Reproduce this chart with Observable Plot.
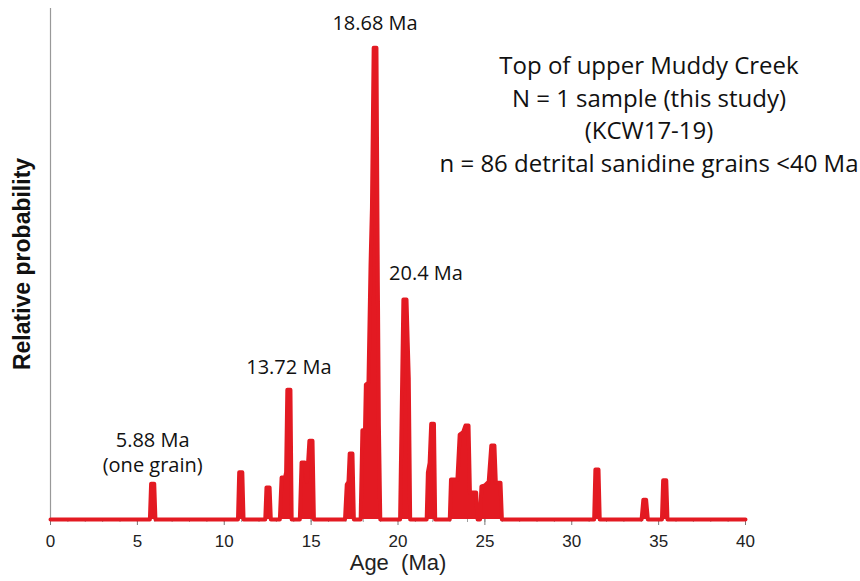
<!DOCTYPE html>
<html>
<head>
<meta charset="utf-8">
<script src="https://cdn.jsdelivr.net/npm/d3@7"></script>
<script src="https://cdn.jsdelivr.net/npm/@observablehq/plot@0.6"></script>
<style>
  body { margin: 0; background: #fff; }
  #chart { width: 860px; height: 581px; }
</style>
</head>
<body>
<div id="chart"></div>
<script>
// Probability-density outline of detrital sanidine ages (Ma) and relative probability.
const ages = [
  0,
  5.72, 5.79, 5.97, 6.04,
  10.79, 10.86, 11.04, 11.11,
  12.36, 12.43, 12.61, 12.68,
  13.2, 13.3, 13.5, 13.56, 13.63, 13.81, 13.88,
  14.35, 14.45, 14.64, 14.76, 14.9, 15.08, 15.16,
  16.95, 17.05, 17.15, 17.22, 17.38, 17.46,
  17.85, 17.95, 18.1, 18.15, 18.3, 18.42, 18.5, 18.6, 18.76, 18.84, 18.9, 18.98,
  20.12, 20.31, 20.49, 20.56, 20.62, 20.7,
  21.65, 21.72, 21.82, 21.91, 22.07, 22.14,
  22.98, 23.05, 23.42, 23.55, 23.75, 23.88, 24.06, 24.14, 24.5, 24.58,
  24.72, 24.8, 25.0, 25.22, 25.37, 25.55, 25.63, 25.9, 25.98,
  31.29, 31.36, 31.54, 31.61,
  34.02, 34.12, 34.28, 34.38,
  35.19, 35.26, 35.44, 35.51,
  40
];
const probs = [
  0,
  0, 0.076, 0.076, 0,
  0, 0.100, 0.100, 0,
  0, 0.068, 0.068, 0,
  0, 0.089, 0.089, 0.10, 0.275, 0.275, 0,
  0, 0.121, 0.121, 0.08, 0.167, 0.167, 0,
  0, 0.074, 0.08, 0.140, 0.140, 0,
  0, 0.189, 0.189, 0.286, 0.29, 0.54, 0.66, 1.0, 1.0, 0.5, 0.2, 0,
  0, 0.466, 0.466, 0.375, 0.3, 0,
  0, 0.10, 0.12, 0.203, 0.203, 0,
  0, 0.085, 0.085, 0.18, 0.185, 0.199, 0.199, 0.057, 0.057, 0,
  0, 0.07, 0.072, 0.08, 0.157, 0.157, 0.078, 0.078, 0,
  0, 0.106, 0.106, 0,
  0, 0.042, 0.042, 0,
  0, 0.083, 0.083, 0,
  0
];

// Annotated peaks
const peakAges = [5.88, 13.72, 18.68, 20.4];
const peakLabels = ["5.88 Ma\n(one grain)", "13.72 Ma", "18.68 Ma", "20.4 Ma"];

// Axis ticks
const majorTicks = [0, 5, 10, 15, 20, 25, 30, 35, 40];
const minorTicks = d3.range(0, 41, 1);

// Sample description
const titleLines = [
  "Top of upper Muddy Creek",
  "N = 1 sample (this study)",
  "(KCW17-19)",
  "n = 86 detrital sanidine grains <40 Ma"
];

const red = "#e31a22";
const curve = ages.map((a, i) => ({age: a, prob: probs[i]}));
const peakTop = a => d3.max(curve.filter(d => Math.abs(d.age - a) < 0.2), d => d.prob);
const peaks = peakAges.map((a, i) => ({age: a, prob: peakTop(a), label: peakLabels[i]}));

// label placement relative to each peak top: [dx, dy]
const labelOffsets = [[0, -12], [0, -16], [0, -18], [21, -20]];

const chart = Plot.plot({
  width: 860,
  height: 581,
  marginLeft: 50,
  marginRight: 115,
  marginTop: 8,
  marginBottom: 62,
  x: {domain: [0, 40]},
  y: {domain: [0, 1.083], axis: null},
  style: {fontFamily: "'Open Sans', sans-serif", background: "#fff", overflow: "visible"},
  marks: [
    Plot.ruleX([0], {y1: 0, y2: 1.083, stroke: "#999", strokeWidth: 1.2}),
    Plot.axisX({ticks: minorTicks, tickSize: 3, tickFormat: () => "", stroke: "#888", strokeWidth: 0.8, label: null}),
    Plot.axisX({
      ticks: majorTicks, tickSize: 6, tickPadding: 9, stroke: "#777",
      fontSize: 17, fontFamily: "'Liberation Sans Narrow', 'Arial Narrow', sans-serif",
      fill: "#222", label: null, tickFormat: d => String(d)
    }),
    Plot.areaY(curve, {x: "age", y: "prob", fill: red, curve: "linear"}),
    Plot.line(curve, {x: "age", y: "prob", stroke: red, strokeWidth: 4, strokeLinejoin: "round", curve: "linear"}),
    ...peaks.map((p, i) => Plot.text([p], {
      x: "age", y: "prob", text: "label",
      dx: labelOffsets[i][0], dy: labelOffsets[i][1],
      lineAnchor: "bottom", fontSize: 20, lineHeight: 1.25, fill: "#111"
    })),
    Plot.text(["Age  (Ma)"], {
      frameAnchor: "bottom", dy: 50, fontSize: 22,
      fontFamily: "'Liberation Sans Narrow', 'Arial Narrow', sans-serif", fill: "#222"
    }),
    Plot.text(["Relative probability"], {
      frameAnchor: "left", textAnchor: "middle", dx: -28, rotate: -90, fontSize: 23, fontWeight: "bold",
      fontFamily: "'Liberation Sans', Arial, sans-serif", fill: "#111"
    }),
    Plot.text([titleLines.join("\n")], {
      frameAnchor: "top", dx: 251, dy: 104, lineAnchor: "middle", lineHeight: 1.36,
      fontSize: 24, fill: "#111"
    })
  ]
});

document.getElementById("chart").appendChild(chart);
</script>
</body>
</html>
